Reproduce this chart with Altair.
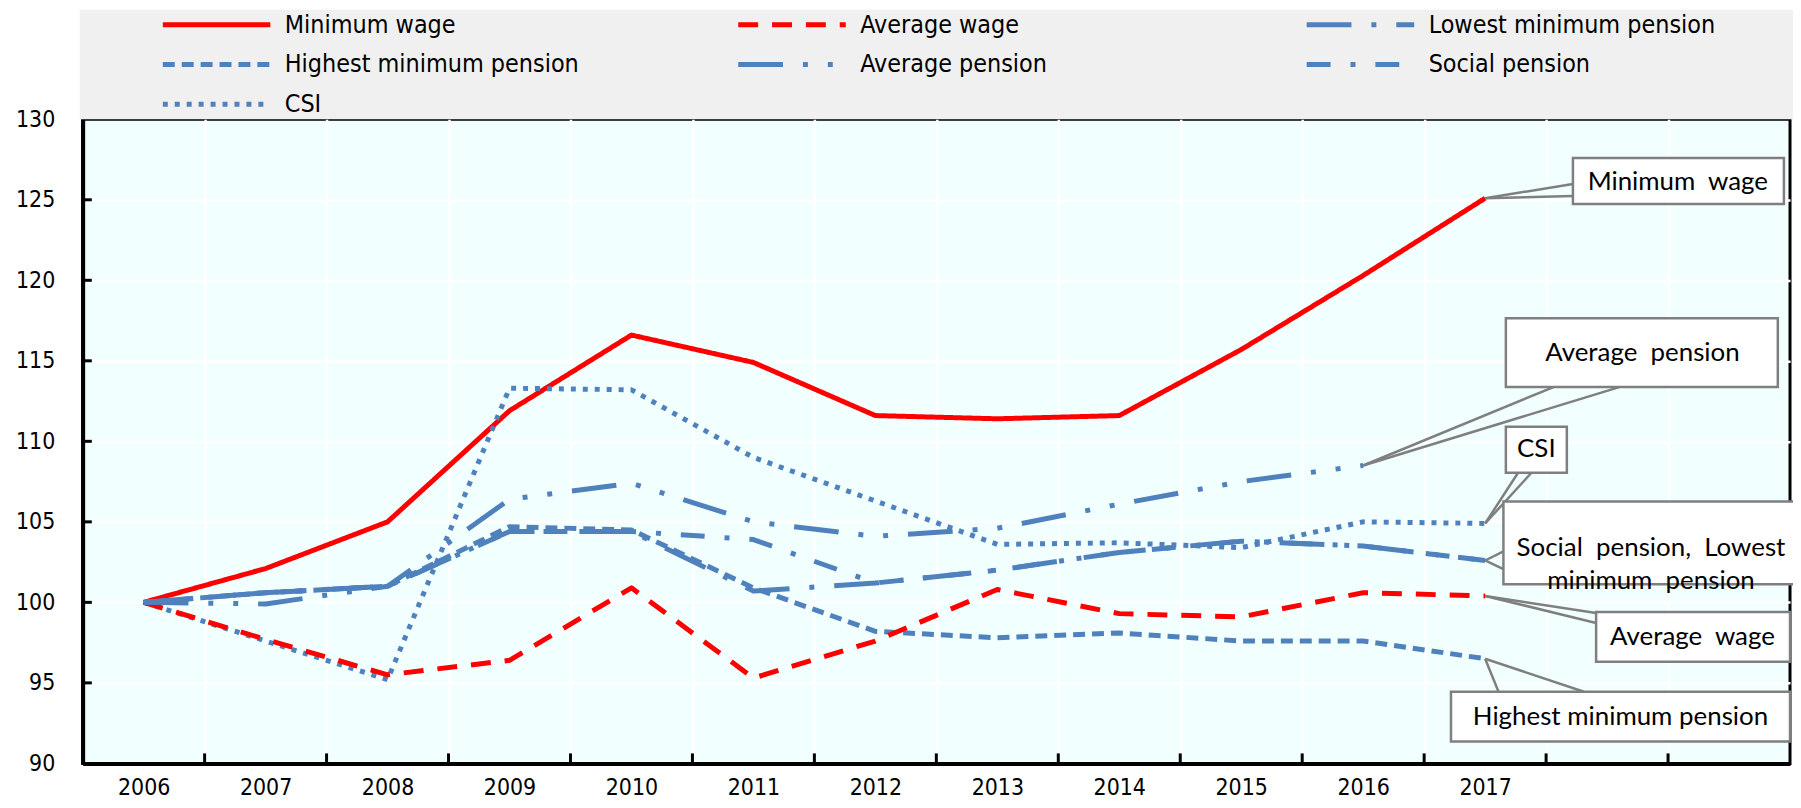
import altair as alt
import pandas as pd

years = [2006, 2007, 2008, 2009, 2010, 2011, 2012, 2013, 2014, 2015, 2016, 2017]
series_names = ["Minimum wage", "Average wage", "Lowest minimum pension",
                "Highest minimum pension", "Average pension", "Social pension", "CSI"]
minimum_wage = [100.0, 102.1, 105.0, 111.9, 116.6, 114.9, 111.6, 111.4, 111.6, 115.7, 120.3, 125.1]
average_wage = [100.0, 97.7, 95.5, 96.4, 100.9, 95.3, 97.6, 100.8, 99.3, 99.1, 100.6, 100.4]
lowest_min_pension = [100.0, 100.6, 101.0, 104.4, 104.4, 100.7, 101.2, 102.0, 103.1, 103.8, 103.5, 102.6]
highest_min_pension = [100.0, 100.6, 101.0, 104.7, 104.5, 100.9, 98.2, 97.8, 98.1, 97.6, 97.6, 96.5]
average_pension = [100.0, 99.9, 101.0, 106.4, 107.4, 105.0, 104.1, 104.6, 106.1, 107.5, 108.5, None]
social_pension = [100.0, 100.6, 101.0, 104.4, 104.4, 103.9, 101.2, 102.0, 103.1, 103.8, 103.5, 102.6]
csi = [100.0, 97.6, 95.2, 113.3, 113.2, 109.0, 106.3, 103.6, 103.7, 103.4, 105.0, 104.9]
series_values = [minimum_wage, average_wage, lowest_min_pension, highest_min_pension,
                 average_pension, social_pension, csi]

# legend columns (as laid out in the reference legend)
legend_columns = [["Minimum wage", "Highest minimum pension", "CSI"],
                  ["Average wage", "Average pension"],
                  ["Lowest minimum pension", "Social pension"]]

y_ticks = [90, 95, 100, 105, 110, 115, 120, 125, 130]
x_bounds = [2006.5, 2007.5, 2008.5, 2009.5, 2010.5, 2011.5, 2012.5, 2013.5,
            2014.5, 2015.5, 2016.5, 2017.5, 2018.5]

# callouts
callout_text = ["Minimum\u00a0 wage", "Average\u00a0 pension", "CSI",
                "Social\u00a0 pension,\u00a0 Lowest\nminimum\u00a0 pension",
                "Average\u00a0 wage", "Highest minimum pension"]
callout_series = ["Minimum wage", "Average pension", "CSI", "Social pension",
                  "Average wage", "Highest minimum pension"]
box_x1 = [2017.72, 2017.17, 2017.17, 2017.15, 2017.91, 2016.72]
box_x2 = [2019.45, 2019.40, 2017.67, 2019.70, 2019.50, 2019.50]
box_y1 = [124.74, 113.37, 108.05, 101.13, 96.31, 91.36]
box_y2 = [127.60, 117.64, 110.90, 106.26, 99.40, 94.45]
text_x = [2018.58, 2018.29, 2017.42, 2018.36, 2018.70, 2018.11]
text_y = [126.10, 115.50, 109.50, 103.38, 97.85, 92.90]
base1_x = [2017.72, 2017.56, 2017.27, 2017.15, 2017.91, 2017.11]
base1_y = [125.98, 113.37, 108.05, 103.17, 99.34, 94.45]
base2_x = [2017.72, 2018.10, 2017.38, 2017.15, 2017.91, 2017.81]
base2_y = [125.24, 113.37, 108.05, 102.06, 98.72, 94.45]

series_color = {"Minimum wage": "#FF0000", "Average wage": "#FF0000",
                "Lowest minimum pension": "#4F81BD", "Highest minimum pension": "#4F81BD",
                "Average pension": "#4F81BD", "Social pension": "#4F81BD", "CSI": "#4F81BD"}
series_dash = {"Minimum wage": [1, 0], "Average wage": [20, 14],
               "Lowest minimum pension": [45, 20, 5, 20], "Highest minimum pension": [12, 7],
               "Average pension": [45, 20, 5, 20, 5, 20], "Social pension": [24, 20, 5, 20],
               "CSI": [5, 7]}

# ---- tables ----
rows = []
for name, vals in zip(series_names, series_values):
    for yr, v in zip(years, vals):
        if v is not None:
            rows.append({"series": name, "year": yr, "value": v})
df = pd.DataFrame(rows)

tips = {}
for name, vals in zip(series_names, series_values):
    last = max(i for i, v in enumerate(vals) if v is not None)
    tips[name] = (years[last], vals[last])

wedge_rows = []
for i, s in enumerate(callout_series):
    tx, ty = tips[s]
    wedge_rows.append({"x": tx, "y": ty, "x2": base1_x[i], "y2": base1_y[i]})
    wedge_rows.append({"x": tx, "y": ty, "x2": base2_x[i], "y2": base2_y[i]})
wedges = pd.DataFrame(wedge_rows)
boxes = pd.DataFrame({"x": box_x1, "x2": box_x2, "y": box_y1, "y2": box_y2})
texts = pd.DataFrame({"x": text_x, "y": text_y, "t": callout_text})

xticks = pd.DataFrame({"x": x_bounds, "y": [90] * len(x_bounds), "y2": [90.62] * len(x_bounds)})
yticks = pd.DataFrame({"y": y_ticks[1:-1], "x": [2005.5] * 7, "x2": [2005.575] * 7})
legend_bg = pd.DataFrame({"x": [2005.476], "x2": [2019.8], "y": [130.0], "y2": [136.8]})

NARROW = "Liberation Sans Narrow, DejaVu Sans Condensed, Arial Narrow, sans-serif"
CALLOUT = "Lato, Carlito, Open Sans, sans-serif"

xscale = alt.Scale(domain=[2005.5, 2019.5], nice=False, zero=False)
yscale = alt.Scale(domain=[90, 130], nice=False, zero=False)

xaxis = alt.Axis(values=x_bounds, title=None, grid=True, gridColor="white", gridWidth=2.5,
                 ticks=False, tickSize=0, domain=True, domainColor="black", domainWidth=4,
                 labelExpr="datum.value < 2018 ? format(datum.value - 0.5, 'd') : ''",
                 labelOffset=-61.25, labelFont=NARROW, labelFontSize=23, labelColor="black",
                 labelPadding=13, labelFlush=False, labelOverlap=False)
yaxis = alt.Axis(values=y_ticks, title=None, grid=True,
                 gridColor={"condition": {"test": "datum.value == 90 || datum.value == 130",
                                          "value": "transparent"}, "value": "white"},
                 gridWidth=2.5, ticks=False, tickSize=0, domain=True, domainColor="black",
                 domainWidth=4, labelFont=NARROW, labelFontSize=23, labelColor="black",
                 labelPadding=28)

legend_x = [78, 656, 1227]


def make_legend(lx):
    return alt.Legend(orient="none", legendX=lx, legendY=-107, direction="vertical",
                      title=None, symbolType="stroke", symbolSize=11664,
                      symbolStrokeWidth=5, labelFont=NARROW, labelFontSize=25,
                      labelColor="black", labelOffset=12, rowPadding=15,
                      labelLimit=800, clipHeight=24, padding=0, symbolOpacity=1)


bg = alt.Chart(legend_bg).mark_rect(fill="#F0F0F0").encode(
    x=alt.X("x:Q", scale=xscale, axis=xaxis), x2="x2",
    y=alt.Y("y:Q", scale=yscale, axis=yaxis), y2="y2")

line_layers = []
for names, lx in zip(legend_columns, legend_x):
    lg = make_legend(lx)
    line_layers.append(
        alt.Chart(df).transform_filter(alt.FieldOneOfPredicate(field="series", oneOf=names))
        .mark_line(strokeWidth=5, strokeJoin="round").encode(
            x=alt.X("year:Q", scale=xscale, axis=xaxis),
            y=alt.Y("value:Q", scale=yscale, axis=yaxis),
            color=alt.Color("series:N", scale=alt.Scale(
                domain=names, range=[series_color[n] for n in names]), legend=lg),
            strokeDash=alt.StrokeDash("series:N", scale=alt.Scale(
                domain=names, range=[series_dash[n] for n in names]), legend=lg),
            detail="series:N",
        )
    )
lines = alt.layer(*line_layers).resolve_scale(color="independent", strokeDash="independent")

xt = alt.Chart(xticks).mark_rule(color="black", strokeWidth=3).encode(
    x="x:Q", y="y:Q", y2="y2")
yt = alt.Chart(yticks).mark_rule(color="black", strokeWidth=3).encode(
    x="x:Q", x2="x2", y="y:Q")

wedge = alt.Chart(wedges).mark_rule(color="#7F7F7F", strokeWidth=2.5).encode(
    x="x:Q", y="y:Q", x2="x2", y2="y2")
box = alt.Chart(boxes).mark_rect(fill="white", stroke="#7F7F7F", strokeWidth=2.5).encode(
    x="x:Q", x2="x2", y="y:Q", y2="y2")
txt = alt.Chart(texts).mark_text(font=CALLOUT, fontSize=26, color="black", align="center",
                                 baseline="middle", lineBreak="\n", lineHeight=33).encode(
    x="x:Q", y="y:Q", text="t:N")

chart = alt.layer(bg, lines, xt, yt, wedge, box, txt).resolve_scale(
    color="independent", strokeDash="independent"
).properties(
    width=1715, height=647,
    autosize=alt.AutoSizeParams(type="none"),
    padding={"left": 75, "top": 110, "right": 3, "bottom": 35},
).configure_view(fill="#F2FFFF", stroke="black", strokeWidth=3)

chart.save("out.html", embed_options={"renderer": "svg", "actions": False})
